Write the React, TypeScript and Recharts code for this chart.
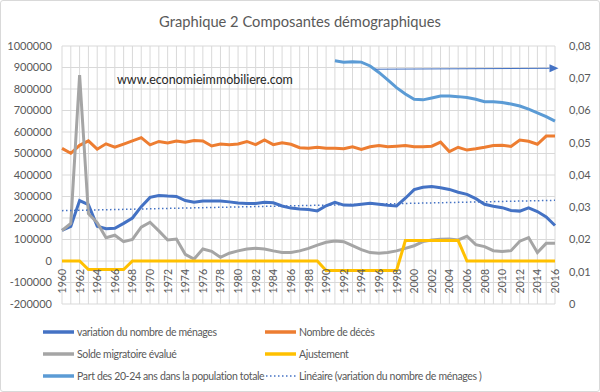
import React from 'react';
import { LineChart, Line, XAxis, YAxis, CartesianGrid, ReferenceLine } from 'recharts';

const years = Array.from({ length: 57 }, (_, i) => 1960 + i);

// variation du nombre de ménages
const households = [
  143000, 161000, 281000, 262000, 162000, 150000, 152000, 175000, 200000, 253000,
  296000, 305000, 302000, 300000, 281000, 273000, 279000, 279000, 279000, 275000,
  270000, 267000, 268000, 273000, 271000, 256000, 246000, 242000, 240000, 233000,
  257000, 273000, 260000, 259000, 264000, 268000, 264000, 259000, 256000, 292000,
  332000, 343000, 346000, 341000, 333000, 320000, 310000, 290000, 264000, 255000,
  248000, 235000, 232000, 247000, 230000, 205000, 165000,
];

// Nombre de décès
const deaths = [
  524000, 501000, 538000, 559000, 520000, 545000, 529000, 544000, 559000, 574000,
  540000, 556000, 549000, 558000, 552000, 560000, 558000, 535000, 544000, 541000,
  544000, 556000, 541000, 563000, 541000, 550000, 543000, 527000, 524000, 529000,
  524000, 524000, 522000, 531000, 519000, 531000, 537000, 531000, 534000, 537000,
  531000, 531000, 534000, 553000, 509000, 529000, 516000, 522000, 529000, 537000,
  538000, 533000, 563000, 557000, 543000, 581000, 581000,
];

// Solde migratoire évalué
const migration = [
  142000, 175000, 865000, 220000, 178000, 108000, 120000, 90000, 100000, 157000,
  180000, 140000, 98000, 102000, 31000, 9000, 56000, 45000, 17000, 36000,
  47000, 56000, 59000, 56000, 47000, 40000, 40000, 47000, 59000, 74000,
  87000, 93000, 90000, 71000, 53000, 39000, 36000, 40000, 47000, 59000,
  71000, 90000, 98000, 101000, 102000, 98000, 115000, 76000, 67000, 48000,
  44000, 48000, 92000, 109000, 39000, 82000, 82000,
];

// Ajustement
const adjustment = [
  0, 0, 0, -40000, -40000, -40000, -40000, -40000, 0, 0,
  0, 0, 0, 0, 0, 0, 0, 0, 0, 0,
  0, 0, 0, 0, 0, 0, 0, 0, 0, 0,
  -44000, -44000, -44000, -44000, -44000, -44000, -44000, -44000, -44000, 95000,
  95000, 95000, 95000, 95000, 95000, 95000, 0, 0, 0, 0,
  0, 0, 0, 0, 0, 0, 0,
];

// Part des 20-24 ans dans la population totale (axe de droite, 1991-2016)
const share2024 = [
  0.0754, 0.075, 0.0751, 0.075, 0.0738, 0.0718, 0.0695, 0.0671, 0.0651, 0.0635,
  0.0633, 0.0639, 0.0645, 0.0645, 0.0643, 0.064, 0.0635, 0.0627, 0.0627, 0.0625,
  0.062, 0.0614, 0.0604, 0.0593, 0.0581, 0.0567,
];
const shareStart = 1991;

const leftTicks = [-200000, -100000, 0, 100000, 200000, 300000, 400000, 500000, 600000, 700000, 800000, 900000, 1000000];
const rightTicks = [0, 0.01, 0.02, 0.03, 0.04, 0.05, 0.06, 0.07, 0.08];

// flèche annotée (année, part)
const arrowFrom = { x: 1995.6, y: 0.0728 };
const arrowTo = { x: 2016.4, y: 0.0731 };

// tendance linéaire des ménages (moindres carrés, comme Excel)
const n = years.length;
const mx = years.reduce((a, b) => a + b, 0) / n;
const my = households.reduce((a, b) => a + b, 0) / n;
let sxy = 0;
let sxx = 0;
years.forEach((yr, i) => {
  sxy += (yr - mx) * (households[i] - my);
  sxx += (yr - mx) * (yr - mx);
});
const slope = sxy / sxx;

const data = years.map((year, i) => ({
  year,
  households: households[i],
  deaths: deaths[i],
  migration: migration[i],
  adjustment: adjustment[i],
  share: year >= shareStart ? share2024[year - shareStart] : null,
  trend: my + slope * (year - mx),
}));

const legendItems = [
  { label: 'variation du nombre de ménages', color: '#4472C4' },
  { label: 'Nombre de décès', color: '#ED7D31' },
  { label: 'Solde migratoire évalué', color: '#A5A5A5' },
  { label: 'Ajustement', color: '#FFC000' },
  { label: 'Part des 20-24 ans dans la population totale', color: '#5B9BD5' },
  { label: 'Linéaire (variation du nombre de ménages )', color: '#4472C4', dotted: true },
];

const FONT = 'Lato, "Liberation Sans", sans-serif';
const TEXT = '#595959';

function YearTick(props: any) {
  const { x, y, payload } = props;
  if (payload.value % 2 !== 0) return <g />;
  return (
    <text
      transform={`translate(${x + 4},${y - 35}) rotate(-90)`}
      textAnchor="end"
      fontSize={10.5}
      fill={TEXT}
      fontFamily={FONT}
    >
      {payload.value}
    </text>
  );
}

function Arrow(props: any) {
  const { x1, y1, x2, y2 } = props;
  const ang = Math.atan2(y2 - y1, x2 - x1);
  const len = 9;
  const half = 4;
  const bx = x2 - len * Math.cos(ang);
  const by = y2 - len * Math.sin(ang);
  const px = -Math.sin(ang) * half;
  const py = Math.cos(ang) * half;
  return (
    <g>
      <line x1={x1} y1={y1} x2={bx} y2={by} stroke="#4472C4" strokeWidth={1} />
      <polygon points={`${x2},${y2} ${bx + px},${by + py} ${bx - px},${by - py}`} fill="#4472C4" />
    </g>
  );
}

export default function App() {
  return (
    <div style={{ position: 'relative', width: 600, height: 392, background: '#fff', fontFamily: FONT }}>
      <style>{'body{margin:0}'}</style>
      <div
        style={{
          position: 'absolute',
          top: 12,
          left: 0,
          width: 600,
          textAlign: 'center',
          fontSize: 14.7,
          color: TEXT,
        }}
      >
        Graphique 2 Composantes démographiques
      </div>
      <div style={{ position: 'absolute', left: 0, top: 0 }}>
        <LineChart width={600} height={392} data={data} margin={{ top: 46, right: 0, left: 0, bottom: 0 }}>
          <CartesianGrid yAxisId="left" stroke="#d9d9d9" strokeWidth={1} />
          <XAxis
            type="number"
            dataKey="year"
            domain={[1960, 2016]}
            ticks={years}
            interval={0}
            height={88}
            tickSize={0}
            tickMargin={0}
            axisLine={false}
            tickLine={false}
            tick={<YearTick />}
          />
          <YAxis
            yAxisId="left"
            width={62}
            domain={[-200000, 1000000]}
            ticks={leftTicks}
            interval={0}
            tickSize={0}
            tickMargin={10}
            axisLine={false}
            tickLine={false}
            tick={{ fontSize: 11, fill: TEXT, fontFamily: FONT }}
          />
          <YAxis
            yAxisId="right"
            orientation="right"
            width={45}
            domain={[0, 0.08]}
            ticks={rightTicks}
            interval={0}
            tickSize={0}
            tickMargin={14}
            axisLine={false}
            tickLine={false}
            tick={{ fontSize: 11, fill: TEXT, fontFamily: FONT }}
            tickFormatter={(v: number) => (v === 0 ? '0' : v.toFixed(2).replace('.', ','))}
          />
          <Line yAxisId="left" dataKey="households" stroke="#4472C4" strokeWidth={3} dot={false} isAnimationActive={false} />
          <Line yAxisId="left" dataKey="deaths" stroke="#ED7D31" strokeWidth={3} dot={false} isAnimationActive={false} />
          <Line yAxisId="left" dataKey="migration" stroke="#A5A5A5" strokeWidth={3} dot={false} isAnimationActive={false} />
          <Line yAxisId="left" dataKey="adjustment" stroke="#FFC000" strokeWidth={3} dot={false} isAnimationActive={false} />
          <Line yAxisId="right" dataKey="share" stroke="#5B9BD5" strokeWidth={3} dot={false} isAnimationActive={false} />
          <Line
            yAxisId="left"
            dataKey="trend"
            stroke="#4472C4"
            strokeWidth={1.5}
            strokeDasharray="1.5 2.5"
            dot={false}
            isAnimationActive={false}
          />
          <ReferenceLine
            yAxisId="right"
            segment={[arrowFrom, arrowTo]}
            ifOverflow="visible"
            shape={Arrow}
          />
        </LineChart>
      </div>
      <div style={{ position: 'absolute', left: 117, top: 72, fontSize: 12.5, color: '#262626' }}>
        www.economieimmobiliere.com
      </div>
      {legendItems.map((item, i) => {
        const col = i % 2;
        const row = Math.floor(i / 2);
        return (
          <div
            key={item.label}
            style={{
              position: 'absolute',
              left: col === 0 ? 43 : 265,
              top: 323.5 + row * 22,
              height: 16,
              display: 'flex',
              alignItems: 'center',
              fontSize: 10.5,
              letterSpacing: -0.35,
              color: TEXT,
              whiteSpace: 'nowrap',
            }}
          >
            <svg width={32} height={6} style={{ marginRight: 2 }}>
              {item.dotted ? (
                <line x1={1} y1={3} x2={31} y2={3} stroke={item.color} strokeWidth={1.5} strokeDasharray="1.5 2.5" />
              ) : (
                <line x1={0} y1={3} x2={31} y2={3} stroke={item.color} strokeWidth={3.5} />
              )}
            </svg>
            {item.label}
          </div>
        );
      })}
      <div
        style={{
          position: 'absolute',
          inset: 0,
          border: '1px solid #d9d9d9',
          borderRadius: 3,
          pointerEvents: 'none',
        }}
      />
    </div>
  );
}
